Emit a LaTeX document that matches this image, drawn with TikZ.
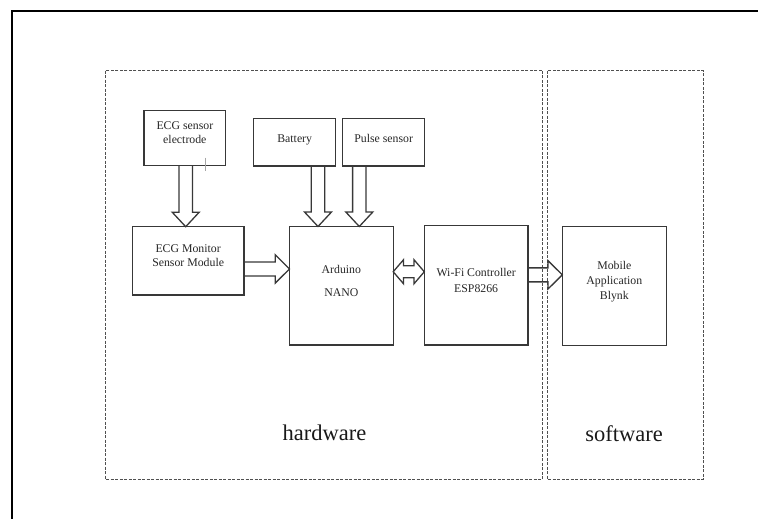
\documentclass[tikz,border=0pt]{standalone}
\usepackage{fontspec}
\newfontfamily\tnr{Liberation Serif}
\usetikzlibrary{calc}
\definecolor{boxgray}{HTML}{383838}
\definecolor{dashgray}{HTML}{505050}
\tikzset{
  box/.style={draw=boxgray, line width=1.3pt, inner sep=0pt, outer sep=0pt, rectangle},
  txt/.style={font=\tnr\fontsize{11.8}{14}\selectfont, align=center, inner sep=0pt, text=black!85},
  region/.style={draw=dashgray, line width=1pt, dash pattern=on 3pt off 1.5pt},
  regionlabel/.style={font=\tnr\fontsize{22.5}{26}\selectfont, anchor=base, inner sep=0pt, text=black!90},
  blk/.style={draw=boxgray, line width=1.3pt, line join=miter},
}
\newcommand\downblk[2]{\draw[blk] ($(#1)+(-6.7,0)$) -- ($(#2)+(-6.7,-14.5)$) -- ($(#2)+(-13.5,-14.5)$) -- (#2) -- ($(#2)+(13.5,-14.5)$) -- ($(#2)+(6.7,-14.5)$) -- ($(#1)+(6.7,0)$);}
\newcommand\rightblk[2]{\draw[blk] ($(#1)+(0,-7)$) -- ($(#2)+(-14.3,-7)$) -- ($(#2)+(-14.3,-14.2)$) -- (#2) -- ($(#2)+(-14.3,14.2)$) -- ($(#2)+(-14.3,7)$) -- ($(#1)+(0,7)$);}
\newcommand\bothblk[2]{\draw[blk] (#1) -- ($(#1)+(10.3,-12)$) -- ($(#1)+(10.3,-6)$) -- ($(#2)+(-10.3,-6)$) -- ($(#2)+(-10.3,-12)$) -- (#2) -- ($(#2)+(-10.3,12)$) -- ($(#2)+(-10.3,6)$) -- ($(#1)+(10.3,6)$) -- ($(#1)+(10.3,12)$) -- cycle;}
\begin{document}
\begin{tikzpicture}[x=1pt, y=-1pt]
\useasboundingbox (0,0) rectangle (758,519);
% outer frame (only top and left edges are inside the picture)
\draw[line width=2.2pt, line join=miter] (760,11) -- (11.7,11) -- (11.7,521);
% regions
\draw[region] (105,70.7) rectangle (542.7,479);
\draw[region] (547,70.7) rectangle (703.3,479);
\node[regionlabel] (hwlabel) at (324.5,440.5) {hardware};
\node[regionlabel] (swlabel) at (624,441.5) {software};
% boxes
\node[box, minimum width=81.7, minimum height=55] (elec) at (184.85,138) {};
\node[box, minimum width=82, minimum height=47.3] (bat) at (294.7,142.35) {};
\node[box, minimum width=82, minimum height=47.3] (pulse) at (383.7,142.35) {};
\node[box, minimum width=111.7, minimum height=68.3] (mon) at (188.15,260.85) {};
\node[box, minimum width=103.7, minimum height=118.5] (ard) at (341.35,285.75) {};
\node[box, minimum width=103.7, minimum height=119.3] (wifi) at (476.15,285.35) {};
\node[box, minimum width=104, minimum height=119] (mob) at (614.3,286.2) {};
% texts
\node[txt] (elect) at (184.85,132.4) {ECG sensor\\electrode};
\node[txt] (batt) at (294.7,139.7) {Battery};
\node[txt] (pulset) at (383.7,138.6) {Pulse sensor};
\node[txt] (mont) at (188.15,255.2) {ECG Monitor\\Sensor Module};
\node[txt] (ardt) at (341.35,281) {Arduino\\[9.4pt]NANO};
\node[txt] (wifit) at (476.15,280) {Wi-Fi Controller\\[2pt]ESP8266};
\node[txt, font=\tnr\fontsize{11.8}{15}\selectfont] (mobt) at (614.3,281.6) {Mobile\\Application\\Blynk};
% stray mark
\draw[black!35, line width=0.6pt] (205.3,157.7) -- (205.3,171);
% connector coordinates
\coordinate (a1s) at ($(elec.south)+(0.85,0)$);
\coordinate (a1e) at (a1s |- mon.north);
\coordinate (a2s) at ($(bat.south)+(23.3,0)$);
\coordinate (a2e) at (a2s |- ard.north);
\coordinate (a3s) at ($(pulse.south)+(-24.4,0)$);
\coordinate (a3e) at (a3s |- ard.north);
\coordinate (a4s) at ($(mon.east)+(0,8.1)$);
\coordinate (a4e) at (a4s -| ard.west);
\coordinate (a5s) at ($(ard.east)+(0,-14)$);
\coordinate (a5e) at (a5s -| wifi.west);
\coordinate (a6s) at ($(wifi.east)+(0,-10.5)$);
\coordinate (a6e) at (a6s -| mob.west);
% block arrows
\downblk{a1s}{a1e}
\downblk{a2s}{a2e}
\downblk{a3s}{a3e}
\rightblk{a4s}{a4e}
\bothblk{a5s}{a5e}
\rightblk{a6s}{a6e}
\end{tikzpicture}
\end{document}
